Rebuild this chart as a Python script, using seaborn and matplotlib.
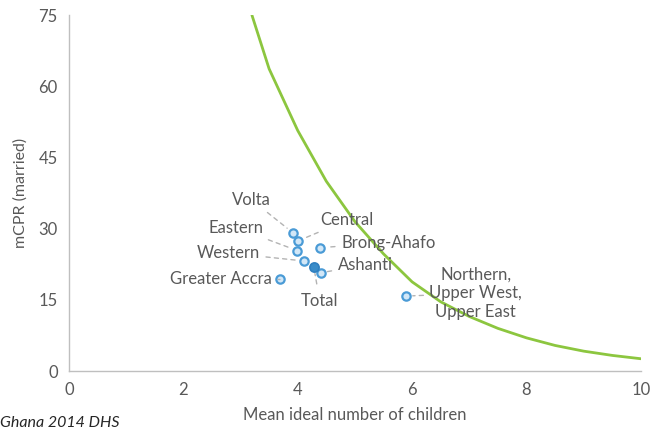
import pandas as pd
import matplotlib.pyplot as plt
import seaborn as sns

# Regional points (Ghana 2014 DHS)
regions = ["Volta", "Central", "Eastern", "Brong-Ahafo", "Western", "Ashanti",
           "Greater Accra", "Northern,\nUpper West,\nUpper East"]
ideal_children = [3.91, 4.00, 3.99, 4.39, 4.11, 4.40, 3.69, 5.89]
mcpr = [29.2, 27.4, 25.4, 26.0, 23.2, 20.7, 19.3, 15.8]

total_x = [4.28]
total_y = [22.0]

# Green reference curve
curve_x = [3.2, 3.5, 4.0, 4.5, 5.0, 5.5, 6.0, 6.5, 7.0, 7.5, 8.0, 8.5, 9.0, 9.5, 10.0]
curve_y = [75, 63.7, 50.7, 40.0, 31.5, 24.7, 18.8, 14.6, 11.5, 9.0, 7.0, 5.4, 4.2, 3.3, 2.6]

# label offsets in pixels (dx, dy, ha)
offsets = {
    "Volta": (-22, 33, "right"),
    "Central": (23, 21, "left"),
    "Eastern": (-34, 23, "right"),
    "Brong-Ahafo": (21, 5, "left"),
    "Western": (-44, 8, "right"),
    "Ashanti": (17, 8, "left"),
    "Greater Accra": (-8, 0, "right"),
    "Northern,\nUpper West,\nUpper East": (70, 3, "center"),
}

sns.set_theme(style="white")
plt.rcParams["font.family"] = ["Lato", "DejaVu Sans"]

text_col = "#595959"
green = "#8cc63f"
edge = "#4a9bd6"
face = "#d2e7f7"

df = pd.DataFrame({"region": regions, "x": ideal_children, "y": mcpr})
curve = pd.DataFrame({"x": curve_x, "y": curve_y})

fig = plt.figure(figsize=(6.5, 4.33), dpi=100)
ax = fig.add_axes([0.106, 0.143, 0.88, 0.822])

sns.lineplot(data=curve, x="x", y="y", color=green, lw=2, sort=False, ax=ax)
sns.scatterplot(data=df, x="x", y="y", s=36, color=face, edgecolor=edge,
                linewidth=1.6, ax=ax, zorder=3)
sns.scatterplot(x=total_x, y=total_y, s=44, color="#3a8cc9", edgecolor="#2f7fbf",
                linewidth=1.2, ax=ax, zorder=4)

for r, x, y in zip(regions, ideal_children, mcpr):
    dx, dy, ha = offsets[r]
    ax.annotate(r, (x, y), xytext=(dx, dy), textcoords="offset pixels",
                ha=ha, va="center", fontsize=12, color=text_col,
                linespacing=1.2,
                arrowprops=dict(arrowstyle="-", ls=(0, (3, 3)), color="#b3b3b3",
                                lw=1, shrinkA=2, shrinkB=5))

ax.annotate("Total", (total_x[0], total_y[0]), xytext=(6, -34),
            textcoords="offset pixels", ha="center", va="center",
            fontsize=12, color=text_col,
            arrowprops=dict(arrowstyle="-", ls=(0, (3, 3)), color="#b3b3b3",
                            lw=1, shrinkA=4, shrinkB=5))

ax.set_xlim(0, 10)
ax.set_ylim(0, 75)
ax.set_xticks([0, 2, 4, 6, 8, 10])
ax.set_yticks([0, 15, 30, 45, 60, 75])
ax.tick_params(colors=text_col, labelsize=12, length=0, pad=8)
ax.set_xlabel("Mean ideal number of children", color=text_col, fontsize=12,
              labelpad=6)
ax.set_ylabel("mCPR (married)", color=text_col, fontsize=11.5, labelpad=8)

sns.despine(ax=ax)
for s in ["left", "bottom"]:
    ax.spines[s].set_color("#bfbfbf")
    ax.spines[s].set_linewidth(1)

fig.text(0.0, 0.015, "Ghana 2014 DHS", style="italic", fontsize=11.5,
         color="#262626")

fig.savefig("out.png", dpi=100)
